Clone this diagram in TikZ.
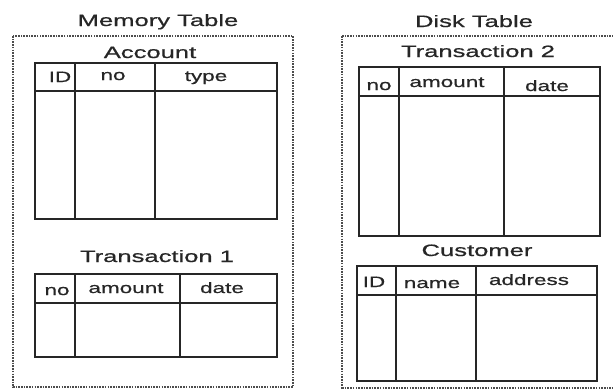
\documentclass[tikz,border=0pt]{standalone}
\usepackage{fontspec}
\newfontfamily\titlefont[FakeStretch=1.55,FakeBold=0.6]{Liberation Sans}
\newfontfamily\headfont[FakeStretch=1.5,FakeBold=0.6]{Liberation Sans}
\begin{document}
\begin{tikzpicture}[x=1pt,y=-1pt,
  title/.style={anchor=base,inner sep=0pt,text=black!85,font=\titlefont\fontsize{16.5}{18}\selectfont},
  head/.style={anchor=base,inner sep=0pt,text=black!85,font=\headfont\fontsize{15}{16}\selectfont},
  tbl/.style={draw=black!85,line width=1.7pt},
  zone/.style={draw=black!70,line width=1.4pt,dash pattern=on 1.6pt off 1.1pt}]
\useasboundingbox (0,0) rectangle (613,389);
\fill[white] (0,0) rectangle (613,389);

% storage zones
\draw[zone] (13,36) rectangle (293,387);
\draw[zone] (342,36) -- (620,36);
\draw[zone] (342,36) -- (342,389);
\draw[zone] (342,388) -- (620,388);

\node[title] (mem) at (158,26) {Memory Table};
\node[title] (disk) at (474,27) {Disk Table};

% Account
\node[title] (acct) at (150,58) {Account};
\draw[tbl] (35,63) rectangle (277,219);
\draw[tbl] (35,91) -- (277,91);
\draw[tbl] (75,63) -- (75,219);
\draw[tbl] (155,63) -- (155,219);
\node[head] (acctid) at (60,82) {ID};
\node[head] (acctno) at (113,80) {no};
\node[head] (accttype) at (206,81) {type};

% Transaction 1
\node[title] (tr1) at (157,262) {Transaction 1};
\draw[tbl] (35,274) rectangle (277,357);
\draw[tbl] (35,303) -- (277,303);
\draw[tbl] (75,274) -- (75,357);
\draw[tbl] (180,274) -- (180,357);
\node[head] (tr1no) at (57,295) {no};
\node[head] (tr1amt) at (126,293) {amount};
\node[head] (tr1date) at (222,293) {date};

% Transaction 2
\node[title] (tr2) at (478,57) {Transaction 2};
\draw[tbl] (359,67) rectangle (600,236);
\draw[tbl] (359,96) -- (600,96);
\draw[tbl] (399,67) -- (399,236);
\draw[tbl] (504,67) -- (504,236);
\node[head] (tr2no) at (379,90) {no};
\node[head] (tr2amt) at (447,87) {amount};
\node[head] (tr2date) at (547,91) {date};

% Customer
\node[title] (cust) at (477,256) {Customer};
\draw[tbl] (357,266) rectangle (597,381);
\draw[tbl] (357,295) -- (597,295);
\draw[tbl] (396,266) -- (396,381);
\draw[tbl] (476,266) -- (476,381);
\node[head] (custid) at (374,287) {ID};
\node[head] (custname) at (432,288) {name};
\node[head] (custaddr) at (529,285) {address};
\end{tikzpicture}
\end{document}
